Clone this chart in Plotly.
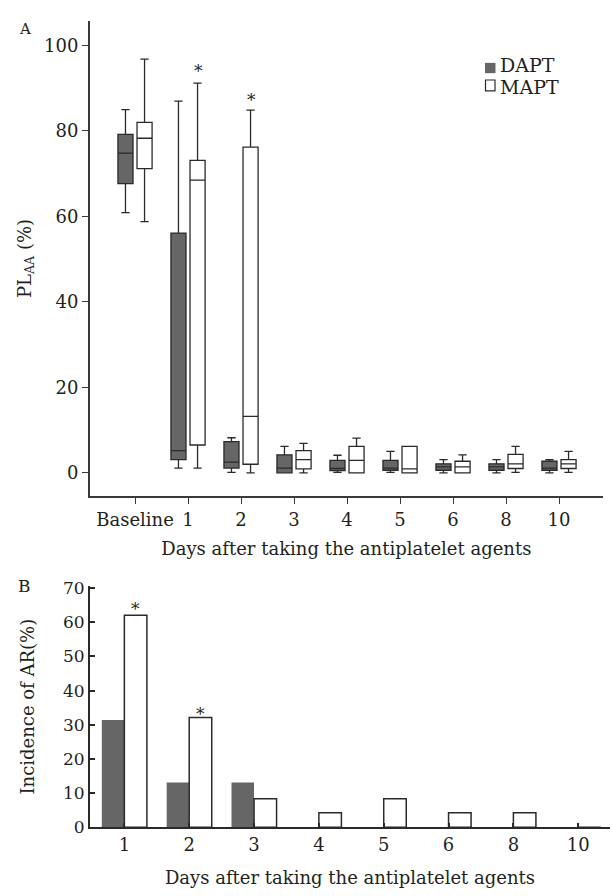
import plotly.graph_objects as go

W, H = 612, 896

# ---------------- Panel A data (box plots, PL_AA %) ----------------
days_a = ["Baseline", "1", "2", "3", "4", "5", "6", "8", "10"]

dapt_upper = [85.0, 87.0, 8.2, 6.2, 4.1, 5.0, 3.1, 3.1, 3.1]
dapt_q3 = [79.2, 56.1, 7.3, 4.2, 2.9, 2.9, 2.1, 2.1, 2.7]
dapt_median = [74.8, 5.2, 2.5, 1.1, 1.0, 1.1, 1.4, 1.4, 1.1]
dapt_q1 = [67.7, 3.1, 1.1, 0.0, 0.5, 0.6, 0.6, 0.6, 0.6]
dapt_lower = [60.9, 1.1, 0.1, 0.0, 0.1, 0.1, 0.0, 0.0, 0.0]

mapt_upper = [96.8, 91.2, 84.9, 6.9, 8.1, 6.2, 4.2, 6.2, 5.0]
mapt_q3 = [82.0, 73.1, 76.2, 5.2, 6.2, 6.2, 2.7, 4.3, 3.1]
mapt_median = [78.3, 68.5, 13.2, 3.1, 2.9, 0.9, 1.4, 2.1, 2.1]
mapt_q1 = [71.2, 6.5, 2.0, 0.9, 0.0, 0.0, 0.0, 1.0, 1.0]
mapt_lower = [58.8, 1.1, 0.0, 0.0, 0.0, 0.0, 0.0, 0.1, 0.1]

sig_days_a = ["1", "2"]
sig_y_a = [95.0, 88.1]

y_ticks_a = [0, 20, 40, 60, 80, 100]

# ---------------- Panel B data (incidence of AR %) ----------------
days_b = ["1", "2", "3", "4", "5", "6", "8", "10"]
dapt_ar = [31.4, 13.1, 13.1, 0.0, 0.0, 0.0, 0.0, 0.0]
mapt_ar = [62.1, 32.1, 8.3, 4.2, 8.3, 4.2, 4.2, 0.0]

sig_days_b = ["1", "2"]
sig_y_b = [65.1, 34.4]

y_ticks_b = [0, 10, 20, 30, 40, 50, 60, 70]

# ---------------- styling ----------------
FONT = "DejaVu Serif"
INK = "#231f20"
GRAY = "#666666"


def px_x(p):
    return p / W


def px_y(p):
    return (H - p) / H


fig = go.Figure()

fig.add_trace(go.Box(
    x=days_a, q1=dapt_q1, median=dapt_median, q3=dapt_q3,
    lowerfence=dapt_lower, upperfence=dapt_upper,
    name="DAPT", fillcolor=GRAY, line=dict(color="#2a2a2a", width=1.3),
    whiskerwidth=0.55, boxpoints=False, showlegend=False,
    xaxis="x", yaxis="y"))
fig.add_trace(go.Box(
    x=days_a, q1=mapt_q1, median=mapt_median, q3=mapt_q3,
    lowerfence=mapt_lower, upperfence=mapt_upper,
    name="MAPT", fillcolor="white", line=dict(color="#2a2a2a", width=1.3),
    whiskerwidth=0.55, boxpoints=False, showlegend=False,
    xaxis="x", yaxis="y"))

fig.add_trace(go.Bar(
    x=days_b, y=dapt_ar, name="DAPT", marker=dict(color=GRAY, line=dict(width=0)),
    showlegend=False, xaxis="x2", yaxis="y2"))
fig.add_trace(go.Bar(
    x=days_b, y=mapt_ar, name="MAPT",
    marker=dict(color="white", line=dict(color="#2a2a2a", width=1.5)),
    showlegend=False, xaxis="x2", yaxis="y2"))

annotations = []
for d, v in zip(sig_days_a, sig_y_a):
    annotations.append(dict(x=days_a.index(d), y=v, xref="x", yref="y", text="*", showarrow=False,
                            xshift=10, yshift=-4, font=dict(family=FONT, size=17, color=INK)))
for d, v in zip(sig_days_b, sig_y_b):
    annotations.append(dict(x=days_b.index(d), y=v, xref="x2", yref="y2", text="*", showarrow=False,
                            xshift=11, yshift=-4, font=dict(family=FONT, size=17, color=INK)))

# panel letters
annotations.append(dict(x=px_x(17), y=px_y(10), xref="paper", yref="paper", text="A",
                        showarrow=False, xanchor="left", yanchor="top",
                        font=dict(family=FONT, size=15, color=INK)))
annotations.append(dict(x=px_x(16), y=px_y(578), xref="paper", yref="paper", text="B",
                        showarrow=False, xanchor="left", yanchor="top",
                        font=dict(family=FONT, size=17, color=INK)))

# legend (manual)
annotations.append(dict(x=px_x(498), y=px_y(58), xref="paper", yref="paper", text="DAPT",
                        showarrow=False, xanchor="left", yanchor="middle",
                        font=dict(family=FONT, size=19, color=INK)))
annotations.append(dict(x=px_x(498), y=px_y(80.5), xref="paper", yref="paper", text="MAPT",
                        showarrow=False, xanchor="left", yanchor="middle",
                        font=dict(family=FONT, size=19, color=INK)))

shapes = [
    dict(type="rect", xref="paper", yref="paper", x0=px_x(485), x1=px_x(495.5),
         y0=px_y(66.5), y1=px_y(56), fillcolor=GRAY, line=dict(width=0)),
    dict(type="rect", xref="paper", yref="paper", x0=px_x(485.5), x1=px_x(495),
         y0=px_y(84.5), y1=px_y(73.5), fillcolor="white", line=dict(color="#2a2a2a", width=1.2)),
]

axis_font = dict(family=FONT, size=18, color=INK)

fig.update_layout(
    width=W, height=H,
    margin=dict(l=0, r=0, t=0, b=0),
    paper_bgcolor="white", plot_bgcolor="white",
    boxmode="group", boxgap=0.28, boxgroupgap=0.21,
    barmode="group", bargap=0.305, bargroupgap=0.0,
    font=dict(family=FONT, color=INK),
    annotations=annotations, shapes=shapes,
    xaxis=dict(
        domain=[px_x(89.7), px_x(603)], anchor="y",
        type="category", categoryorder="array", categoryarray=days_a,
        range=[-0.855, 8.83],
        showline=True, linecolor="#3a3a3a", linewidth=1.5,
        ticks="outside", ticklen=6, tickwidth=1.3, tickcolor="#3a3a3a",
        showgrid=False, zeroline=False, tickfont=axis_font,
        ticklabelstandoff=0,
        title=dict(text="Days after taking the antiplatelet agents", font=axis_font, standoff=14),
    ),
    yaxis=dict(
        domain=[px_y(498.3), px_y(13)], anchor="x",
        range=[-5.5, 105.8], tickvals=y_ticks_a,
        showline=True, linecolor="#3a3a3a", linewidth=1.5,
        ticks="outside", ticklen=6, tickwidth=1.3, tickcolor="#3a3a3a",
        showgrid=False, zeroline=False, tickfont=axis_font,
        title=dict(text="PL<sub>AA</sub> (%)", font=axis_font, standoff=8),
    ),
    xaxis2=dict(
        domain=[px_x(90), px_x(610)], anchor="y2",
        type="category", categoryorder="array", categoryarray=days_b,
        range=[-0.53, 7.49],
        showline=True, linecolor="#2a2a2a", linewidth=2,
        ticks="inside", ticklen=4, tickwidth=1.5, tickcolor="#2a2a2a",
        showgrid=False, zeroline=False, tickfont=axis_font,
        ticklabelstandoff=0,
        title=dict(text="Days after taking the antiplatelet agents", font=axis_font, standoff=18),
    ),
    yaxis2=dict(
        domain=[px_y(836), px_y(590)], anchor="x2",
        range=[0, 70.6], tickvals=y_ticks_b,
        showline=True, linecolor="#2a2a2a", linewidth=2,
        ticks="inside", ticklen=5, tickwidth=1.5, tickcolor="#2a2a2a",
        showgrid=False, zeroline=False, tickfont=dict(family=FONT, size=17, color=INK),
        title=dict(text="Incidence of AR(%)", font=axis_font, standoff=24),
    ),
)

fig.write_html("out.html", config={"displayModeBar": False},
               post_script="document.body.style.margin='0';document.body.style.overflow='hidden';")
